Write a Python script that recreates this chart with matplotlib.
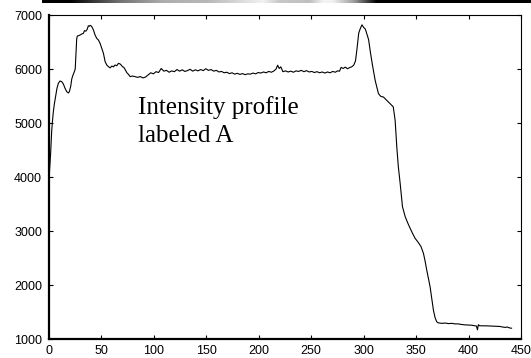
import matplotlib
matplotlib.use("Agg")
import matplotlib.pyplot as plt
import numpy as np
from matplotlib.colors import LinearSegmentedColormap

# ---- data ----
position = [0, 0.6, 1.6, 2.5, 3.2, 4.1, 5.1, 6.4, 7.6, 8.9, 10.5, 12.1, 13.7, 15.3,
            16.9, 18.5, 19.4, 20.7, 21.7, 22.9, 24.2, 25.0, 25.8, 26.4, 27.0, 28.1,
            29.7, 31.2, 32.8, 33.8, 35.1, 36.4, 37.5, 38.3, 39.1, 40.0, 40.8, 42.4,
            43.9, 45.5, 47.1, 48.7, 50.3, 51.9, 53.5, 55.1, 56.7, 58.3, 59.9, 61.5,
            63.0, 64.6, 66.2, 67.8, 69.0, 70.0, 71.3, 72.6, 74.2, 75.8, 77.4, 79.6,
            82.2, 84.5, 87, 89.5, 92, 94.5, 97, 99.5, 102, 104.5, 107, 109.5, 112,
            114.5, 117, 119.5, 122, 124.5, 127, 129.5, 132, 134.5, 137, 139.5, 142,
            144.5, 147, 149.5, 152, 154.5, 157, 159.5, 162, 164.5, 167, 169.5, 172,
            174.5, 177, 179.5, 182, 184.5, 187, 189.5, 192, 194.5, 197, 199.5, 202,
            204.5, 207, 209.5, 212, 214.5, 216.5, 218, 219.5, 221, 223, 225.5, 228,
            230.5, 233, 235.5, 238, 240.5, 243, 245.5, 248, 250.5, 253, 255.5, 258,
            260.5, 263, 265.5, 268, 270.5, 273, 275, 277, 278.5, 280.5, 282.5, 284.5,
            286.5, 288.5, 290.5, 292.2, 293.5, 295.3, 297, 298.4, 300, 301.6, 303,
            304.7, 306.5, 308.5, 311, 314.1, 316.5, 318.8, 322, 325.1, 328.2, 330,
            331.6, 333, 334.8, 337, 339.6, 342, 344.3, 346.5, 349, 352, 354.7, 357,
            358.5, 360.1, 363.3, 366.5, 368, 369.6, 371, 374.4, 378, 381, 384, 387,
            390, 393, 396.5, 400, 403, 406, 407.5, 408.5, 409.3, 410.5, 414, 418, 422,
            426, 430, 433, 435, 437, 439, 441]
intensity = [3960, 4145, 4457, 4827, 5012, 5198, 5352, 5506, 5642, 5735, 5778, 5766,
             5722, 5642, 5580, 5556, 5580, 5679, 5815, 5889, 5951, 6000, 6309, 6556,
             6610, 6617, 6630, 6648, 6660, 6710, 6700, 6735, 6800, 6790, 6808, 6800,
             6784, 6722, 6630, 6568, 6537, 6475, 6383, 6290, 6136, 6074, 6043, 6020,
             6055, 6040, 6074, 6060, 6105, 6093, 6070, 6043, 6031, 5990, 5932, 5900,
             5858, 5870, 5858, 5845, 5860, 5835, 5850, 5890, 5930, 5910, 5950, 5935,
             6010, 5960, 5975, 5940, 5965, 5950, 5990, 5960, 5985, 5955, 5970, 5995,
             5960, 5985, 5965, 5990, 5970, 6005, 5975, 5990, 5960, 5975, 5945, 5955,
             5930, 5940, 5915, 5930, 5905, 5920, 5900, 5915, 5895, 5910, 5905, 5925,
             5910, 5935, 5925, 5945, 5930, 5955, 5940, 5965, 6000, 6070, 6010, 6040,
             5950, 5965, 5945, 5960, 5940, 5965, 5955, 5975, 5950, 5970, 5945, 5955,
             5935, 5950, 5930, 5945, 5925, 5945, 5930, 5955, 5940, 5965, 5960, 6030,
             6010, 6035, 6005, 6025, 6040, 6070, 6150, 6350, 6666, 6760, 6818, 6770,
             6739, 6650, 6545, 6300, 6060, 5786, 5543, 5490, 5482, 5420, 5360, 5300,
             5050, 4550, 4200, 3880, 3450, 3265, 3150, 3050, 2960, 2865, 2790, 2710,
             2585, 2450, 2280, 1970, 1535, 1400, 1320, 1300, 1290, 1295, 1285, 1290,
             1280, 1280, 1270, 1262, 1258, 1255, 1245, 1240, 1170, 1265, 1245, 1245,
             1243, 1240, 1238, 1232, 1220, 1215, 1222, 1205, 1200]

x_ticks = [0, 50, 100, 150, 200, 250, 300, 350, 400, 450]
y_ticks = [1000, 2000, 3000, 4000, 5000, 6000, 7000]
annotation = "Intensity profile\nlabeled A"

# decorative grey strip at the top of the picture
bar_stops = [0.0, 0.057, 0.112, 0.159, 0.247, 0.337, 0.452, 0.487, 0.548, 0.575,
             0.595, 0.640, 0.685, 1.0]
bar_gray = [0.0, 0.0, 0.25, 0.45, 0.68, 0.72, 0.95, 0.78, 0.75, 0.95, 0.95, 0.6,
            0.0, 0.0]

W, H = 531, 358
fig = plt.figure(figsize=(W / 100, H / 100), dpi=100)

# strip
cmap = LinearSegmentedColormap.from_list(
    "strip", [(s, (g, g, g)) for s, g in zip(bar_stops, bar_gray)])
bax = fig.add_axes([42 / W, (H - 3) / H, (W - 42) / W, 3 / H])
bax.imshow(np.linspace(0, 1, 512)[None, :], cmap=cmap, aspect="auto",
           vmin=0, vmax=1)
bax.set_axis_off()

ax = fig.add_axes([49 / W, 19 / H, 472 / W, 324 / H])
ax.plot(position, intensity, color="black", lw=0.8)
ax.set_xlim(0, 450)
ax.set_ylim(1000, 7000)
ax.set_xticks(x_ticks)
ax.set_yticks(y_ticks)
ax.tick_params(direction="in", top=True, right=True, length=3, width=0.8,
               labelsize=9, colors="black")
ax.tick_params(axis="x", pad=4.5)
ax.tick_params(axis="y", pad=5)
for lab in ax.get_xticklabels() + ax.get_yticklabels():
    lab.set_fontfamily("Liberation Sans")
ax.spines["left"].set_linewidth(1.6)
ax.spines["bottom"].set_linewidth(1.6)
ax.spines["top"].set_linewidth(0.8)
ax.spines["right"].set_linewidth(0.8)

# baseline of the last line is used for va='baseline'
ax.text(85, 4650, annotation, fontsize=18, family="Liberation Serif",
        ha="left", va="baseline", linespacing=1.35)

fig.savefig("out.png", dpi=100)
